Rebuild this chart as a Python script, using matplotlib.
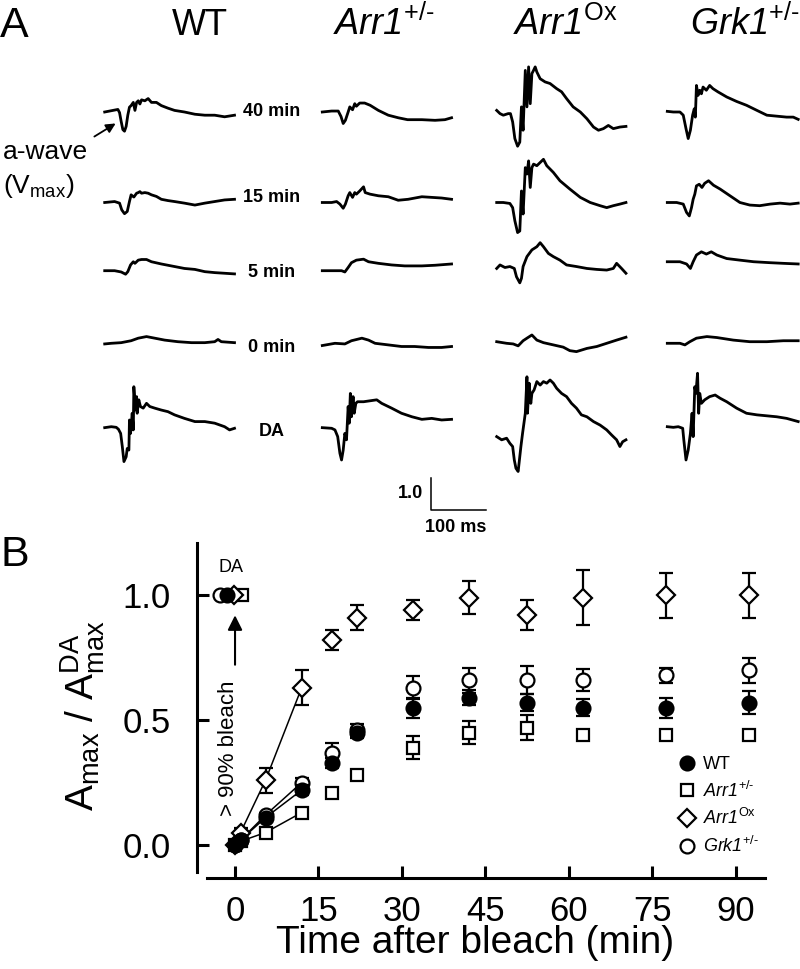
import matplotlib
matplotlib.use('Agg')
import matplotlib.pyplot as plt
from matplotlib.lines import Line2D

plt.rcParams['font.family'] = 'Liberation Sans'
plt.rcParams['mathtext.fontset'] = 'custom'
plt.rcParams['mathtext.rm'] = 'Liberation Sans'
plt.rcParams['mathtext.it'] = 'Liberation Sans:italic'
plt.rcParams['mathtext.sf'] = 'Liberation Sans:italic'  # italic that also covers digits
plt.rcParams['mathtext.bf'] = 'Liberation Sans:bold'

# ---------------- panel A data: ERG traces (time in ms, amplitude in units of the 1.0 scale bar)
col_titles = [r'WT', r'$\mathsf{Arr1}^{\text{+/-}}$', r'$\mathsf{Arr1}^{\text{Ox}}$', r'$\mathsf{Grk1}^{\text{+/-}}$']
row_labels = ['40 min', '15 min', '5 min', '0 min', 'DA']

# WT
wt_40_t = [0, 9, 18, 24, 27, 30, 33, 36, 39, 42, 45, 48, 52, 55, 58, 61, 64, 67, 73, 79, 85, 94, 103, 115, 127, 145, 164, 182, 200, 218, 236]
wt_40_v = [0, 0.03, 0.06, 0.08, -0.02, -0.3, -0.55, -0.6, -0.45, -0.1, 0.15, 0.2, 0.3, 0.05, 0.3, 0.35, 0.25, 0.38, 0.35, 0.42, 0.3, 0.3, 0.2, 0.12, 0.05, 0, -0.07, -0.1, -0.1, -0.15, -0.1]
wt_15_t = [0, 18, 27, 31, 36, 41, 45, 48, 53, 58, 61, 64, 67, 73, 79, 85, 94, 103, 115, 127, 145, 164, 182, 200, 218, 236]
wt_15_v = [0, 0.03, -0.02, -0.23, -0.35, -0.28, 0.03, 0.24, 0.17, 0.29, 0.31, 0.34, 0.29, 0.31, 0.29, 0.24, 0.19, 0.1, 0.06, 0.03, -0.02, -0.08, -0.02, 0.03, 0.08, 0.1]
wt_5_t = [0, 18, 30, 38, 42, 47, 52, 55, 61, 67, 76, 85, 103, 127, 145, 164, 182, 200, 218, 236]
wt_5_v = [0, 0, -0.04, -0.11, -0.03, 0.18, 0.28, 0.23, 0.33, 0.35, 0.35, 0.28, 0.21, 0.13, 0.07, 0.04, -0.03, -0.06, -0.08, -0.1]
wt_0_t = [0, 12, 30, 48, 61, 76, 91, 109, 133, 158, 182, 200, 206, 212, 236]
wt_0_v = [-0.02, 0, 0.02, 0.08, 0.16, 0.21, 0.16, 0.1, 0.05, 0.02, 0.02, 0.05, 0.12, 0.05, 0.02]
wt_da_t = [0, 12, 21, 25, 29, 32, 35, 39, 41, 44, 45, 47, 50, 52, 53, 56, 58, 59, 62, 65, 70, 76, 82, 91, 103, 115, 127, 145, 164, 182, 200, 218, 227, 236]
wt_da_v = [0.02, 0.05, 0.03, -0.03, -0.16, -0.57, -1.04, -0.89, -0.63, -0.68, 0.26, -0.16, 0.47, -0.05, 1.3, 0.57, 0.99, 0.47, 0.89, 0.68, 0.63, 0.78, 0.68, 0.63, 0.57, 0.52, 0.42, 0.31, 0.21, 0.21, 0.16, 0.05, -0.05, 0]

# Arr1+/-
arr_40_t = [0, 17, 29, 34, 38, 42, 47, 50, 55, 59, 62, 68, 77, 87, 102, 120, 138, 155, 181, 205, 223, 235]
arr_40_v = [0, 0.03, 0.03, -0.14, -0.36, -0.26, 0, 0.16, 0.07, 0.26, 0.18, 0.28, 0.28, 0.21, 0.05, -0.1, -0.18, -0.24, -0.24, -0.26, -0.24, -0.18]
arr_15_t = [0, 17, 26, 32, 38, 42, 47, 50, 55, 59, 62, 68, 75, 78, 87, 102, 120, 138, 156, 181, 199, 217, 235]
arr_15_v = [0, 0, 0.03, -0.05, -0.18, -0.05, 0.21, 0.31, 0.16, 0.31, 0.26, 0.36, 0.49, 0.31, 0.26, 0.21, 0.18, 0.07, 0.1, 0.18, 0.16, 0.14, 0.1]
arr_5_t = [0, 23, 35, 41, 47, 53, 62, 75, 84, 102, 126, 150, 181, 205, 235]
arr_5_v = [0, 0, 0, -0.04, 0.1, 0.25, 0.33, 0.36, 0.28, 0.23, 0.18, 0.15, 0.15, 0.17, 0.21]
arr_0_t = [0, 23, 41, 53, 72, 84, 96, 120, 144, 168, 193, 217, 235]
arr_0_v = [-0.07, 0, -0.02, 0.08, 0.16, 0.1, 0, -0.05, -0.1, -0.1, -0.13, -0.13, -0.1]
arr_da_t = [0, 17, 23, 28, 32, 35, 38, 41, 44, 47, 49, 51, 53, 56, 58, 61, 64, 75, 87, 99, 108, 126, 144, 163, 181, 199, 217, 235]
arr_da_v = [0.02, 0, -0.05, -0.26, -0.78, -0.99, -0.68, -0.16, -0.36, 0.68, 0.16, 1.09, 0.36, 0.99, 0.47, 0.78, 0.83, 0.83, 0.86, 0.89, 0.78, 0.63, 0.47, 0.36, 0.28, 0.31, 0.26, 0.28]

# Arr1Ox
ox_40_t = [0, 6, 12, 21, 25, 29, 33, 38, 42, 45, 48, 52, 55, 58, 61, 64, 67, 70, 73, 79, 88, 97, 109, 118, 127, 139, 152, 164, 176, 185, 194, 203, 212, 224, 235]
ox_40_v = [0.05, -0.05, -0.1, -0.05, -0.05, -0.31, -0.83, -1.07, -0.94, 0.16, -0.57, 1.3, 0.16, 1.41, 0.26, 1.2, 1.3, 1.41, 1.25, 1.04, 0.94, 0.89, 0.73, 0.63, 0.42, 0.16, 0, -0.21, -0.47, -0.57, -0.52, -0.42, -0.52, -0.47, -0.45]
ox_15_t = [0, 12, 24, 29, 33, 38, 42, 45, 48, 52, 55, 58, 61, 64, 67, 73, 79, 85, 91, 103, 115, 133, 152, 170, 188, 200, 212, 224, 235]
ox_15_v = [0, 0, -0.03, -0.16, -0.57, -0.94, -0.89, 0.36, -0.36, 1.09, 0.89, 1.3, 0.47, 1.09, 1.2, 1.15, 1.25, 1.35, 1.15, 0.94, 0.68, 0.42, 0.16, 0, -0.1, -0.16, -0.1, -0.05, 0]
ox_5_t = [0, 6, 15, 24, 32, 36, 42, 45, 48, 55, 64, 73, 79, 85, 94, 103, 115, 127, 145, 164, 182, 200, 212, 218, 227, 235]
ox_5_v = [0.07, 0.18, 0.1, 0.13, 0.07, -0.19, -0.38, -0.24, 0.13, 0.44, 0.65, 0.75, 0.875, 0.75, 0.54, 0.44, 0.33, 0.18, 0.13, 0.07, 0.04, 0.02, 0.07, 0.23, 0.07, -0.08]
ox_0_t = [0, 18, 30, 39, 48, 55, 64, 73, 85, 103, 121, 133, 145, 164, 182, 200, 218, 235]
ox_0_v = [0.05, 0, -0.02, -0.08, 0.08, 0.16, 0.26, 0.1, 0.02, -0.05, -0.12, -0.23, -0.26, -0.16, -0.1, 0, 0.1, 0.19]
ox_da_t = [0, 9, 18, 24, 29, 32, 35, 39, 44, 47, 52, 55, 56, 59, 62, 64, 68, 73, 79, 85, 91, 97, 103, 109, 118, 127, 136, 145, 154, 164, 176, 188, 200, 209, 218, 224, 229, 235]
ox_da_v = [-0.26, -0.36, -0.31, -0.47, -0.57, -0.99, -1.25, -1.35, -0.57, -0.16, 0.47, 1.61, 0.47, 1.41, 0.78, 1.09, 1.2, 1.46, 1.35, 1.46, 1.41, 1.51, 1.41, 1.25, 1.09, 0.99, 0.78, 0.63, 0.42, 0.36, 0.21, 0.1, -0.05, -0.21, -0.36, -0.57, -0.42, -0.36]

# Grk1+/-
grk_40_t = [0, 11, 23, 29, 34, 38, 42, 46, 49, 51, 53, 56, 59, 62, 65, 71, 77, 83, 92, 108, 126, 144, 163, 181, 199, 217, 229, 238]
grk_40_v = [0.02, 0, 0, -0.1, -0.52, -0.83, -0.57, -0.1, 0.1, -0.16, 0.83, 0.52, 0.68, 0.57, 0.78, 0.68, 0.83, 0.73, 0.63, 0.47, 0.33, 0.21, 0.05, -0.1, -0.13, -0.16, -0.16, -0.23]
grk_15_t = [0, 17, 29, 35, 40, 44, 47, 50, 53, 58, 63, 68, 75, 84, 96, 114, 132, 150, 168, 187, 205, 223, 238]
grk_15_v = [0, 0, -0.05, -0.31, -0.42, -0.16, 0.1, 0.26, 0.52, 0.57, 0.47, 0.6, 0.68, 0.54, 0.42, 0.21, 0, -0.08, -0.1, -0.05, -0.02, -0.05, -0.02]
grk_5_t = [0, 23, 35, 42, 47, 53, 62, 71, 80, 90, 108, 132, 157, 187, 211, 238]
grk_5_v = [0.28, 0.28, 0.21, 0.07, 0.28, 0.49, 0.59, 0.52, 0.59, 0.49, 0.38, 0.33, 0.28, 0.25, 0.23, 0.21]
grk_0_t = [0, 23, 32, 41, 53, 72, 90, 120, 150, 181, 211, 238]
grk_0_v = [0, 0, -0.05, 0.05, 0.16, 0.21, 0.18, 0.1, 0.05, 0.05, 0.08, 0.08]
grk_da_t = [0, 11, 20, 28, 30, 34, 38, 42, 45, 47, 50, 52, 55, 57, 59, 62, 68, 77, 87, 96, 108, 126, 144, 163, 181, 199, 217, 238]
grk_da_v = [0.05, 0.03, 0.05, 0, -0.36, -0.99, -0.68, -0.16, 0.47, -0.26, 1.3, 1.09, 1.72, 0.47, 1.09, 0.78, 0.89, 0.99, 1.04, 0.94, 0.83, 0.63, 0.47, 0.42, 0.39, 0.36, 0.31, 0.21]

traces = [
    [(wt_40_t, wt_40_v), (wt_15_t, wt_15_v), (wt_5_t, wt_5_v), (wt_0_t, wt_0_v), (wt_da_t, wt_da_v)],
    [(arr_40_t, arr_40_v), (arr_15_t, arr_15_v), (arr_5_t, arr_5_v), (arr_0_t, arr_0_v), (arr_da_t, arr_da_v)],
    [(ox_40_t, ox_40_v), (ox_15_t, ox_15_v), (ox_5_t, ox_5_v), (ox_0_t, ox_0_v), (ox_da_t, ox_da_v)],
    [(grk_40_t, grk_40_v), (grk_15_t, grk_15_v), (grk_5_t, grk_5_v), (grk_0_t, grk_0_v), (grk_da_t, grk_da_v)],
]

# ---------------- panel B data
times = [0, 1, 5.5, 12, 17.5, 22, 32, 42, 52.5, 62.5, 77.5, 92.5]
wt_amp = [0, 0.02, 0.11, 0.22, 0.33, 0.45, 0.55, 0.59, 0.57, 0.55, 0.55, 0.57]
wt_err = [0, 0.01, 0.01, 0.02, 0.02, 0.02, 0.04, 0.03, 0.035, 0.035, 0.04, 0.045]
arr_amp = [0, 0.015, 0.05, 0.13, 0.21, 0.28, 0.39, 0.45, 0.47, 0.44, 0.44, 0.44]
arr_err = [0, 0.01, 0.01, 0.01, 0.01, 0.02, 0.045, 0.045, 0.05, 0.02, 0.02, 0.02]
ox_amp = [0, 0.05, 0.26, 0.63, 0.82, 0.91, 0.94, 0.99, 0.92, 0.99, 1.0, 1.0]
ox_err = [0, 0.02, 0.05, 0.07, 0.04, 0.05, 0.04, 0.065, 0.06, 0.11, 0.09, 0.09]
grk_amp = [0, 0.02, 0.12, 0.25, 0.37, 0.46, 0.63, 0.66, 0.66, 0.66, 0.68, 0.70]
grk_err = [0, 0.01, 0.01, 0.02, 0.04, 0.025, 0.045, 0.05, 0.055, 0.045, 0.03, 0.05]
# dark-adapted reference points (plotted slightly spread around t = 0)
da_times = [-1.4, 1.3, -0.2, -2.7]
da_amp = [1.0, 1.0, 1.0, 1.0]
n_fit = 4  # first points joined by lines

W, H = 800, 969
fig = plt.figure(figsize=(W / 100, H / 100), dpi=100)


def fx(x):
    return x / W


def fy(y):
    return 1 - y / H


# ---------------- panel A
PX_MS = 0.55    # px per ms
PX_UNIT = 32.0  # px per amplitude unit
panel_h = 540
axA = fig.add_axes([0, fy(panel_h), 1, panel_h / H])
axA.set_xlim(0, W / PX_MS)
axA.set_ylim(-panel_h / PX_UNIT, 0)
axA.axis('off')

col_x = [104.7, 322.3, 496.7, 667.3]
row_y = [112, 202.5, 270.7, 343.3, 428.3]
for c, col in enumerate(traces):
    for r, (t, v) in enumerate(col):
        axA.plot([ti + col_x[c] / PX_MS for ti in t],
                 [vi - row_y[r] / PX_UNIT for vi in v],
                 color='black', lw=2.0, solid_joinstyle='round')

# scale bar 1.0 / 100 ms
sb_x, sb_y = 431 / PX_MS, -510 / PX_UNIT
axA.plot([sb_x, sb_x, sb_x + 100], [sb_y + 1.0, sb_y, sb_y], color='black', lw=1.1)
fig.text(fx(423), fy(493), '1.0', ha='right', va='center', fontsize=13, fontweight='bold')
fig.text(fx(456), fy(528), '100 ms', ha='center', va='center', fontsize=13, fontweight='bold')

fig.text(fx(0), fy(37), 'A', ha='left', va='baseline', fontsize=31)
title_x = [172, 333, 513, 690]
for x, s in zip(title_x, col_titles):
    fig.text(fx(x), fy(35), s, ha='left', va='baseline', fontsize=26)

row_lab_y = [111, 198, 273, 348, 432]
for y, s in zip(row_lab_y, row_labels):
    fig.text(fx(272), fy(y), s, ha='center', va='center', fontsize=13, fontweight='bold')

fig.text(fx(3), fy(152), 'a-wave', ha='left', va='center', fontsize=19)
fig.text(fx(3), fy(186), r'(V$_{\mathregular{max}}$)', ha='left', va='center', fontsize=19)
axA.annotate('', xy=(118 / PX_MS, -122 / PX_UNIT), xytext=(92 / PX_MS, -138 / PX_UNIT),
             arrowprops=dict(arrowstyle='-|>', color='black', lw=1.3, mutation_scale=14))

# ---------------- panel B
axB = fig.add_axes([fx(207), fy(878), (765 - 207) / W, (878 - 542.5) / H])
axB.set_xlim(-5.04, 95.3)
axB.set_ylim(-0.132, 1.21)
for s in ['top', 'right']:
    axB.spines[s].set_visible(False)
axB.spines['left'].set_position(('outward', 7.2))
axB.spines['left'].set_bounds(-0.108, 1.208)
axB.spines['left'].set_linewidth(2.2)
axB.spines['bottom'].set_linewidth(2.2)
axB.set_xticks([0, 15, 30, 45, 60, 75, 90])
axB.set_yticks([0, 0.5, 1.0])
axB.set_yticklabels(['0.0', '0.5', '1.0'])
axB.tick_params(axis='y', direction='in', length=8.5, width=2.2, labelsize=25, pad=19)
axB.tick_params(axis='x', direction='in', length=9, width=2.2, labelsize=25, pad=12)

series = [
    (wt_amp, wt_err, 'o', 'black', 10, 6),
    (arr_amp, arr_err, 's', 'white', 8.5, 3),
    (ox_amp, ox_err, 'D', 'white', 9, 4),
    (grk_amp, grk_err, 'o', 'white', 10, 5),
]
for amp, err, m, fc, ms, z in series:
    axB.plot(times[:n_fit], amp[:n_fit], color='black', lw=1.1, zorder=2)
    axB.errorbar(times, amp, yerr=err, fmt=m, mfc=fc, mec='black', mew=1.6, ms=ms,
                 ecolor='black', elinewidth=1.6, capsize=5, capthick=1.6, zorder=z)
for (amp, err, m, fc, ms, z), xd, yd in zip(series, da_times, da_amp):
    axB.plot(xd, yd, m, mfc=fc, mec='black', mew=1.6, ms=ms, zorder=z + 4)

axB.annotate('', xy=(0, 0.93), xytext=(0, 0.71),
             arrowprops=dict(arrowstyle='-|>', color='black', lw=1.5, mutation_scale=22))
fig.text(fx(231), fy(568), 'DA', ha='center', va='center', fontsize=13)
fig.text(fx(229), fy(748), '> 90% bleach', ha='center', va='center', fontsize=16, rotation=90)

fig.text(fx(0), fy(566), 'B', ha='left', va='baseline', fontsize=31)
fig.text(fx(83), fy(716), r'A$_{\mathregular{max}}$ / A$^{\mathregular{DA}}_{\mathregular{max}}$',
         ha='center', va='center', fontsize=28, rotation=90)
fig.text(fx(475), fy(943), 'Time after bleach (min)', ha='center', va='center', fontsize=28)

leg_labels = ['WT', r'$\mathsf{Arr1}^{\text{+/-}}$', r'$\mathsf{Arr1}^{\text{Ox}}$', r'$\mathsf{Grk1}^{\text{+/-}}$']
handles = [Line2D([], [], ls='none', marker=m, mfc=fc, mec='black', mew=1.6, ms=ms)
           for amp, err, m, fc, ms, z in series]
axB.legend(handles, leg_labels, loc='upper left', bbox_to_anchor=(fx(678), fy(756)),
           bbox_transform=fig.transFigure, frameon=False, fontsize=13, handlelength=1,
           handletextpad=0.4, labelspacing=0.42, borderpad=0, borderaxespad=0)

fig.savefig('out.png', dpi=100)
